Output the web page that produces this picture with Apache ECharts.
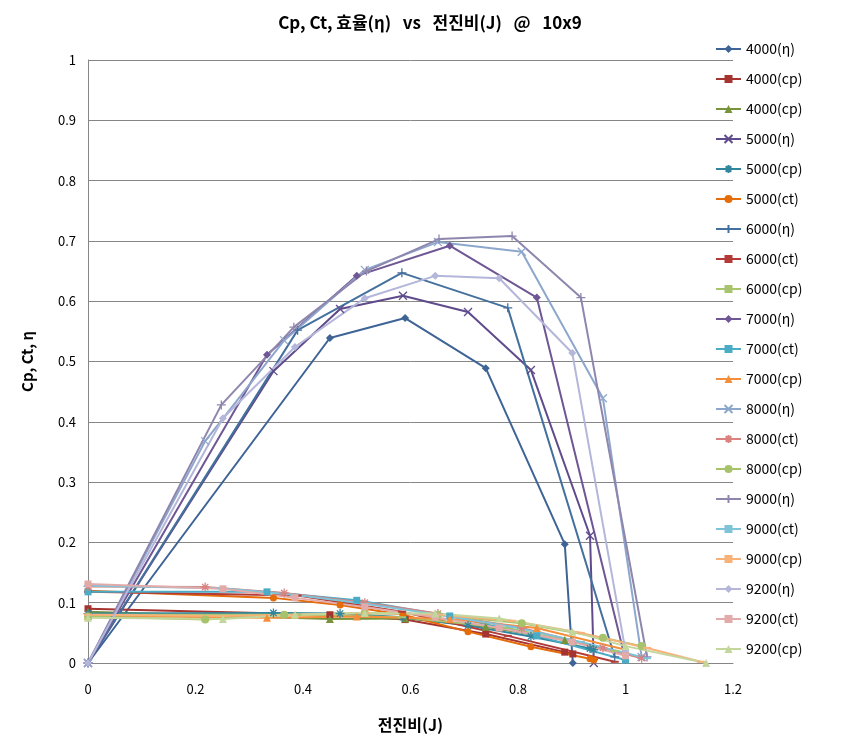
<!DOCTYPE html>
<html><head><meta charset="utf-8">
<script src="https://cdn.jsdelivr.net/npm/echarts@6/dist/echarts.min.js"></script>
<style>html,body{margin:0;padding:0;background:#fff}#c{width:852px;height:750px}</style>
</head><body><div id="c"></div>
<script>
// ---- data ----
const xTicks = [0, 0.2, 0.4, 0.6, 0.8, 1, 1.2];
const yTicks = [0, 0.1, 0.2, 0.3, 0.4, 0.5, 0.6, 0.7, 0.8, 0.9, 1];

const J4000 = [0, 0.45, 0.59, 0.74, 0.887, 0.902];
const eta4000 = [0, 0.539, 0.572, 0.489, 0.197, 0];
const cpA4000 = [0.090, 0.080, 0.072, 0.048, 0.018, 0.015];
const cpB4000 = [0.085, 0.073, 0.074, 0.060, 0.038, 0.036];

const J5000 = [0, 0.345, 0.469, 0.586, 0.707, 0.824, 0.934, 0.941];
const eta5000 = [0, 0.484, 0.587, 0.609, 0.582, 0.486, 0.211, 0];
const cp5000 = [0.082, 0.083, 0.082, 0.076, 0.062, 0.044, 0.024, 0.022];
const ct5000 = [0.120, 0.108, 0.096, 0.080, 0.052, 0.027, 0.007, 0.005];

const J6000 = [0, 0.39, 0.584, 0.781, 0.98];
const eta6000 = [0, 0.552, 0.647, 0.589, 0.01];
const ct6000 = [0.118, 0.112, 0.085, 0.045, 0.002];
const cp6000 = [0.080, 0.080, 0.076, 0.058, 0.020];

const J7000 = [0, 0.333, 0.5, 0.673, 0.835, 1.0];
const eta7000 = [0, 0.511, 0.642, 0.692, 0.606, 0.005];
const ct7000 = [0.118, 0.118, 0.104, 0.078, 0.045, 0.005];
const cp7000 = [0.078, 0.075, 0.077, 0.073, 0.058, 0.022];

const J8000 = [0, 0.218, 0.365, 0.515, 0.651, 0.807, 0.958, 1.03];
const eta8000 = [0, 0.368, 0.535, 0.652, 0.698, 0.682, 0.439, 0.01];
const ct8000 = [0.127, 0.126, 0.116, 0.100, 0.082, 0.058, 0.025, 0.008];
const cp8000 = [0.077, 0.072, 0.080, 0.083, 0.080, 0.066, 0.042, 0.028];

const J9000 = [0, 0.248, 0.383, 0.518, 0.653, 0.789, 0.917, 1.04, 1.14];
const eta9000 = [0, 0.428, 0.557, 0.650, 0.703, 0.708, 0.606, 0.01];
const ct9000 = [0.128, 0.124, 0.113, 0.098, 0.080, 0.060, 0.035, 0.008];
const cp9000 = [0.080, 0.078, 0.080, 0.083, 0.080, 0.070, 0.050, 0.025, 0.002];

const J9200 = [0, 0.251, 0.385, 0.515, 0.646, 0.765, 0.901, 1.0, 1.15];
const eta9200 = [0, 0.406, 0.524, 0.605, 0.642, 0.638, 0.514, 0.02];
const ct9200 = [0.131, 0.123, 0.108, 0.093, 0.076, 0.058, 0.035, 0.012];
const cp9200 = [0.075, 0.073, 0.080, 0.083, 0.082, 0.074, 0.052, 0.028, 0.0];

const seriesNames = ['4000(η)', '4000(cp)', '4000(cp)#2', '5000(η)', '5000(cp)', '5000(ct)',
  '6000(η)', '6000(ct)', '6000(cp)', '7000(η)', '7000(ct)', '7000(cp)',
  '8000(η)', '8000(ct)', '8000(cp)', '9000(η)', '9000(ct)', '9000(cp)',
  '9200(η)', '9200(ct)', '9200(cp)'];
const seriesX = [J4000, J4000, J4000, J5000, J5000, J5000, J6000, J6000, J6000, J7000, J7000, J7000,
  J8000, J8000, J8000, J9000, J9000, J9000, J9200, J9200, J9200];
const seriesY = [eta4000, cpA4000, cpB4000, eta5000, cp5000, ct5000, eta6000, ct6000, cp6000,
  eta7000, ct7000, cp7000, eta8000, ct8000, cp8000, eta9000, ct9000, cp9000, eta9200, ct9200, cp9200];

// ---- styles ----
const X_SYM = 'path://M0,0L10,10M10,0L0,10';
const STAR_SYM = 'path://M0,5L10,5M5,0L5,10M1.5,1.5L8.5,8.5M8.5,1.5L1.5,8.5';
const PLUS_SYM = 'path://M0,5L10,5M5,0L5,10';
const DASH_SYM = 'path://M0,0L10,0L10,2.5L0,2.5Z';
const styles = [
  ['#3E6496', 'diamond', 8], ['#A5332F', 'rect', 7], ['#77933C', 'triangle', 8],
  ['#5F4B8B', X_SYM, 8], ['#31859C', STAR_SYM, 9], ['#E46C0A', 'circle', 7],
  ['#44709E', PLUS_SYM, 9], ['#B33A36', DASH_SYM, 8], ['#A9C46F', DASH_SYM, 8],
  ['#6F5694', 'diamond', 8], ['#4BACC6', 'rect', 7], ['#F38F3C', 'triangle', 8],
  ['#8DA7CC', X_SYM, 8], ['#D9827F', STAR_SYM, 9], ['#A6C26B', 'circle', 8],
  ['#8F86AE', PLUS_SYM, 9], ['#7FC3D6', DASH_SYM, 8], ['#F7B27A', DASH_SYM, 8],
  ['#B4B6DA', 'diamond', 8], ['#E3AAAA', 'rect', 7], ['#C3D69B', 'triangle', 8]
];

const series = seriesNames.map((name, i) => {
  const [color, symbol, size] = styles[i];
  const pathSym = symbol.indexOf('path://') === 0 && symbol !== DASH_SYM;
  return {
    name: name,
    type: 'line',
    data: seriesY[i].map((v, k) => [seriesX[i][k], v]),
    symbol: symbol,
    symbolSize: size,
    symbolKeepAspect: true,
    showAllSymbol: true,
    lineStyle: { color: color, width: 2 },
    itemStyle: pathSym ? { color: 'rgba(0,0,0,0)', borderColor: color, borderWidth: 1.3 } : { color: color },
    emphasis: { disabled: true },
    animation: false
  };
});

const FONT = '"Noto Sans CJK KR", "Noto Sans", sans-serif';
const chart = echarts.init(document.getElementById('c'), null, { renderer: 'canvas' });
chart.setOption({
  backgroundColor: '#ffffff',
  animation: false,
  title: {
    text: 'Cp, Ct, 효율(η)   vs   전진비(J)   @   10x9',
    left: 425, top: 9, textAlign: 'center',
    textStyle: { fontFamily: FONT, fontSize: 17, fontWeight: 'bold', color: '#000' }
  },
  legend: {
    orient: 'vertical', left: 710, top: 37,
    itemWidth: 25, itemHeight: 10, itemGap: 16,
    formatter: n => n.split('#')[0],
    textStyle: { fontFamily: FONT, fontSize: 14, color: '#000' },
    data: seriesNames
  },
  grid: { left: 88, right: 119, top: 60, bottom: 87, containLabel: false },
  xAxis: {
    type: 'value', min: xTicks[0], max: xTicks[xTicks.length - 1], interval: 0.2,
    name: '전진비(J)', nameLocation: 'middle', nameGap: 54,
    nameTextStyle: { fontFamily: FONT, fontSize: 16, fontWeight: 'bold', color: '#000' },
    axisLine: { lineStyle: { color: '#868686', width: 1 } },
    axisTick: { show: false },
    axisLabel: { fontFamily: FONT, fontSize: 13, color: '#000', margin: 20 },
    splitLine: { show: false }
  },
  yAxis: {
    type: 'value', min: yTicks[0], max: yTicks[yTicks.length - 1], interval: 0.1,
    name: 'Cp, Ct, η', nameLocation: 'middle', nameGap: 53, nameRotate: 90,
    nameTextStyle: { fontFamily: FONT, fontSize: 15, fontWeight: 'bold', color: '#000' },
    axisLine: { show: true, lineStyle: { color: '#868686', width: 1 } },
    axisTick: { show: false },
    axisLabel: { fontFamily: FONT, fontSize: 13, color: '#000', margin: 12 },
    splitLine: { show: true, lineStyle: { color: '#868686', width: 1 } }
  },
  series: series
});
</script>
</body></html>
